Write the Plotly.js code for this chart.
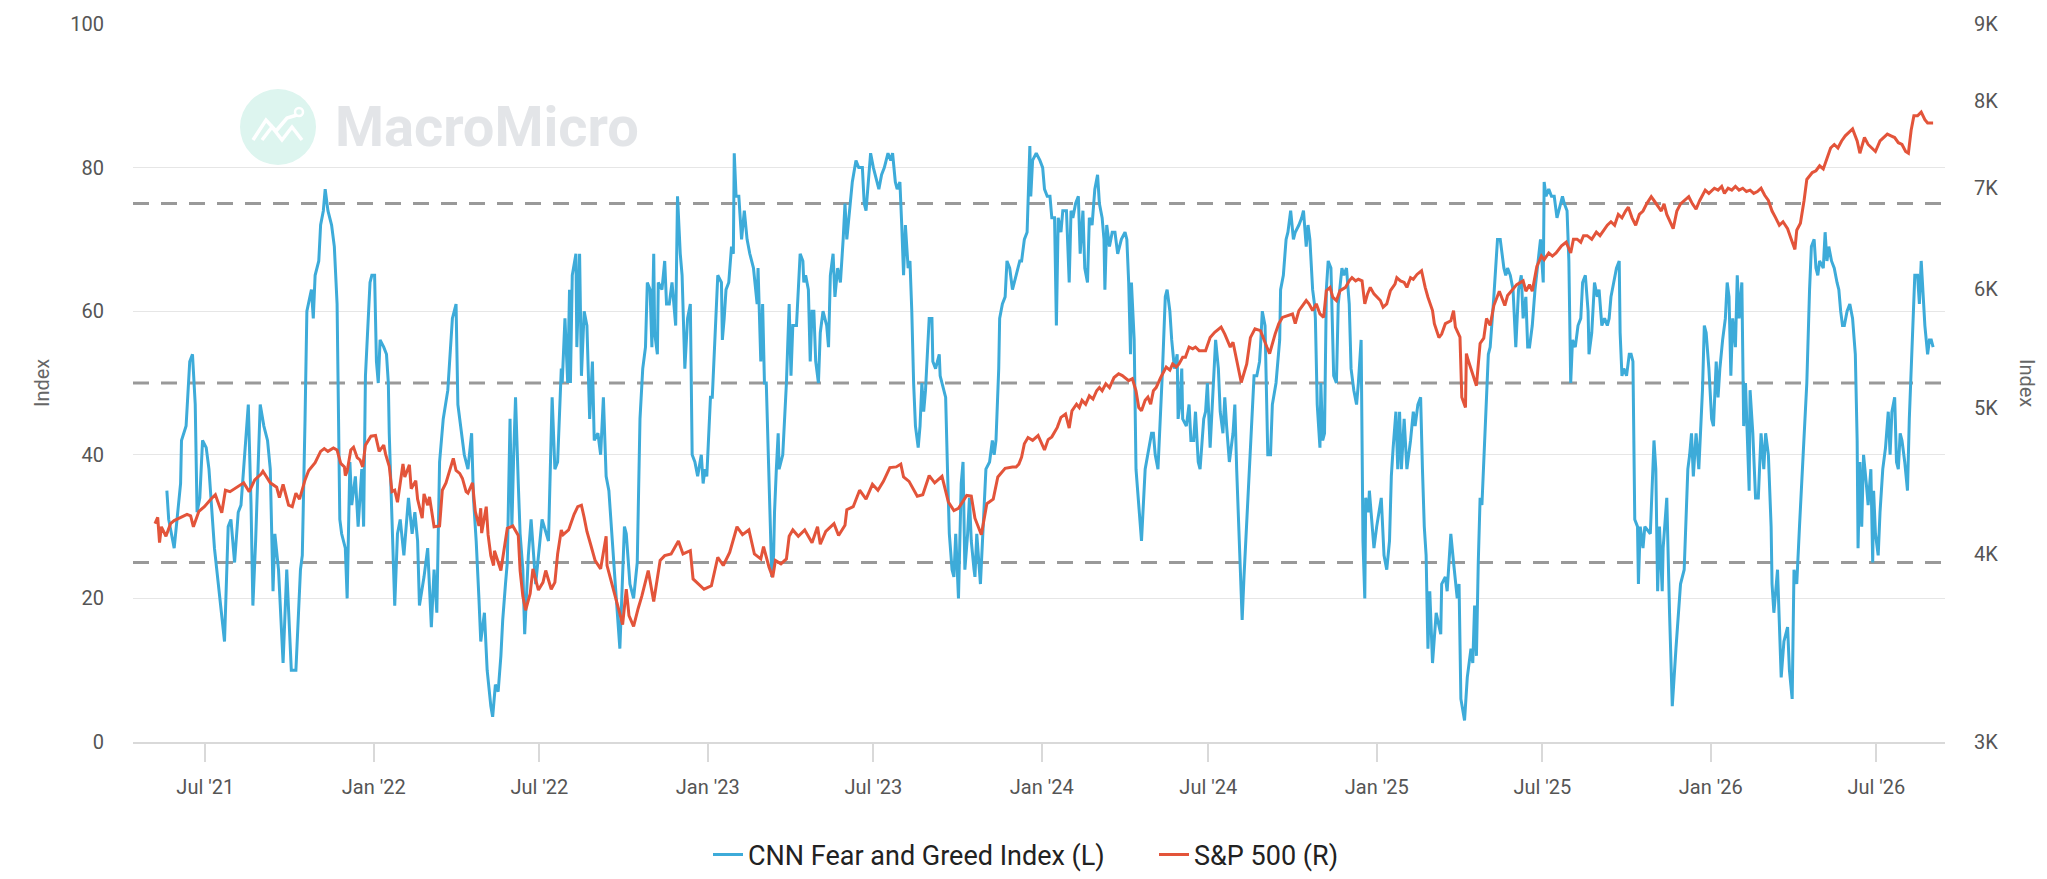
<!DOCTYPE html>
<html><head><meta charset="utf-8">
<script src="https://cdn.plot.ly/plotly-3.0.1.min.js"></script>
<style>html,body{margin:0;padding:0;background:#fff;}#chart{width:2047px;height:879px;}</style>
</head><body><div id="chart"></div>
<script>
// CNN Fear and Greed Index (left axis) - [date, value]
const fngPoints = [
['2021-05-20',35],['2021-05-22',31],['2021-05-28',27],['2021-06-04',36],['2021-06-05',42],['2021-06-10',44],['2021-06-14',53],['2021-06-17',54],['2021-06-20',47],['2021-06-22',32],['2021-06-25',34],['2021-06-28',42],
['2021-07-02',41],['2021-07-05',38],['2021-07-11',27],['2021-07-15',22],['2021-07-19',17],['2021-07-22',14],['2021-07-26',30],['2021-07-29',31],['2021-08-02',25],['2021-08-06',32],['2021-08-09',33],['2021-08-15',43],
['2021-08-17',47],['2021-08-20',33],['2021-08-22',19],['2021-08-25',28],['2021-08-30',47],['2021-09-03',44],['2021-09-07',42],['2021-09-10',38],['2021-09-13',21],['2021-09-15',29],['2021-09-19',24],['2021-09-24',11],
['2021-09-28',24],['2021-10-03',10],['2021-10-08',10],['2021-10-13',24],['2021-10-15',26],['2021-10-18',45],['2021-10-20',60],['2021-10-25',63],['2021-10-27',59],['2021-10-29',65],['2021-11-02',67],['2021-11-04',72],
['2021-11-07',74],['2021-11-09',77],['2021-11-12',74],['2021-11-16',72],['2021-11-19',69],['2021-11-22',61],['2021-11-25',31],['2021-11-27',29],['2021-12-01',27],['2021-12-03',20],['2021-12-06',39],['2021-12-08',33],
['2021-12-12',37],['2021-12-15',30],['2021-12-19',38],['2021-12-21',30],['2021-12-23',51],['2021-12-28',64],['2021-12-30',65],
['2022-01-02',65],['2022-01-04',53],['2022-01-06',50],['2022-01-08',56],['2022-01-12',55],['2022-01-15',54],['2022-01-17',50],['2022-01-18',43],['2022-01-21',31],['2022-01-24',19],['2022-01-27',29],['2022-01-30',31],
['2022-02-03',26],['2022-02-08',34],['2022-02-12',29],['2022-02-15',32],['2022-02-18',28],['2022-02-20',19],['2022-02-25',23],['2022-03-01',27],['2022-03-05',16],['2022-03-08',24],['2022-03-11',18],['2022-03-14',39],
['2022-03-18',45],['2022-03-23',49],['2022-03-28',59],['2022-04-01',61],['2022-04-03',47],['2022-04-07',43],['2022-04-10',40],['2022-04-14',38],['2022-04-18',43],['2022-04-20',34],['2022-04-23',28],['2022-04-26',20],
['2022-04-28',14],['2022-05-02',18],['2022-05-05',10],['2022-05-09',5],['2022-05-11',3.5],['2022-05-14',8],['2022-05-17',7],['2022-05-20',12],['2022-05-22',17],['2022-05-25',22],['2022-05-27',25],['2022-05-30',45],
['2022-06-01',30],['2022-06-03',40],['2022-06-05',48],['2022-06-08',36],['2022-06-10',29],['2022-06-13',24],['2022-06-15',15],['2022-06-19',26],['2022-06-22',31],['2022-06-27',22],['2022-07-01',27],['2022-07-04',31],
['2022-07-11',28],['2022-07-15',48],['2022-07-18',38],['2022-07-21',39],['2022-07-25',52],['2022-07-26',50],['2022-07-29',59],['2022-08-01',50],['2022-08-03',63],['2022-08-04',50],['2022-08-06',65],['2022-08-10',68],
['2022-08-11',55],['2022-08-14',68],['2022-08-16',51],['2022-08-19',60],['2022-08-22',58],['2022-08-25',45],['2022-08-28',53],['2022-08-30',42],['2022-09-03',43],['2022-09-06',40],['2022-09-09',48],['2022-09-12',37],
['2022-09-15',35],['2022-09-18',29],['2022-09-22',22],['2022-09-27',13],['2022-10-02',30],['2022-10-04',29],['2022-10-08',22],['2022-10-12',20],['2022-10-16',25],['2022-10-19',45],['2022-10-22',52],['2022-10-25',55],
['2022-10-27',64],['2022-10-30',63],['2022-11-01',55],['2022-11-03',68],['2022-11-04',57],['2022-11-07',54],['2022-11-08',64],['2022-11-12',63],['2022-11-15',67],['2022-11-17',61],['2022-11-20',61],['2022-11-23',64],
['2022-11-27',58],['2022-11-29',76],['2022-12-02',68],['2022-12-04',65],['2022-12-07',52],['2022-12-10',59],['2022-12-13',61],['2022-12-15',40],['2022-12-18',39],['2022-12-21',37],['2022-12-25',40],['2022-12-27',36],
['2022-12-29',38],['2022-12-31',37],
['2023-01-04',48],['2023-01-06',48],['2023-01-09',56],['2023-01-12',65],['2023-01-16',64],['2023-01-17',56],['2023-01-19',59],['2023-01-21',63],['2023-01-24',64],['2023-01-26',68],['2023-01-27',69],['2023-01-29',68],
['2023-01-30',82],['2023-02-01',76],['2023-02-04',76],['2023-02-07',70],['2023-02-10',74],['2023-02-13',70],['2023-02-16',68],['2023-02-20',66],['2023-02-24',61],['2023-02-25',66],['2023-02-28',53],['2023-03-02',61],
['2023-03-04',50],['2023-03-06',50],['2023-03-09',35],['2023-03-12',23],['2023-03-14',26],['2023-03-15',32],['2023-03-17',38],['2023-03-19',43],['2023-03-20',38],['2023-03-24',40],['2023-03-28',50],['2023-03-30',59],
['2023-03-31',61],['2023-04-02',51],['2023-04-04',58],['2023-04-08',58],['2023-04-10',64],['2023-04-12',68],['2023-04-15',67],['2023-04-16',64],['2023-04-18',65],['2023-04-21',63],['2023-04-23',53],['2023-04-25',60],
['2023-04-27',60],['2023-04-29',53],['2023-05-02',50],['2023-05-04',57],['2023-05-07',60],['2023-05-11',58],['2023-05-13',55],['2023-05-15',65],['2023-05-18',68],['2023-05-20',62],['2023-05-23',66],['2023-05-26',64],
['2023-05-29',70],['2023-05-31',75],['2023-06-02',70],['2023-06-06',76],['2023-06-08',78],['2023-06-12',81],['2023-06-15',80],['2023-06-19',80],['2023-06-21',75],['2023-06-23',74],['2023-06-26',79],['2023-06-28',82],
['2023-07-01',80],['2023-07-05',78],['2023-07-07',77],['2023-07-10',79],['2023-07-13',80],['2023-07-17',82],['2023-07-20',81],['2023-07-22',82],['2023-07-25',78],['2023-07-27',77],['2023-07-30',78],['2023-08-01',72],
['2023-08-03',65],['2023-08-05',72],['2023-08-08',66],['2023-08-10',67],['2023-08-12',60],['2023-08-14',50],['2023-08-16',44],['2023-08-19',41],['2023-08-21',44],['2023-08-23',50],['2023-08-25',46],['2023-08-27',49],
['2023-08-29',54],['2023-08-31',59],['2023-09-03',59],['2023-09-04',53],['2023-09-07',52],['2023-09-11',54],['2023-09-12',51],['2023-09-14',50],['2023-09-18',48],['2023-09-20',38],['2023-09-22',29],['2023-09-25',24],
['2023-09-27',23],['2023-09-29',29],['2023-10-02',20],['2023-10-05',36],['2023-10-07',39],['2023-10-09',24],['2023-10-12',29],['2023-10-14',34],['2023-10-16',28],['2023-10-19',24],['2023-10-20',23],['2023-10-22',29],
['2023-10-26',22],['2023-11-01',38],['2023-11-05',39],['2023-11-08',42],['2023-11-10',40],['2023-11-12',42],['2023-11-15',52],['2023-11-16',59],['2023-11-19',61],['2023-11-22',62],['2023-11-24',67],['2023-11-27',66],
['2023-11-30',63],['2023-12-04',65],['2023-12-08',67],['2023-12-10',67],['2023-12-13',70],['2023-12-16',71],['2023-12-17',76],['2023-12-19',83],['2023-12-20',76],['2023-12-22',81],['2023-12-26',82],['2023-12-30',81],
['2024-01-02',80],['2024-01-04',77],['2024-01-07',76],['2024-01-10',76],['2024-01-12',73],['2024-01-15',73],['2024-01-17',58],['2024-01-19',73],['2024-01-22',71],['2024-01-24',74],['2024-01-28',74],['2024-01-31',64],
['2024-02-02',74],['2024-02-04',73],['2024-02-07',75],['2024-02-10',76],['2024-02-12',68],['2024-02-15',74],['2024-02-17',66],['2024-02-20',64],['2024-02-22',73],['2024-02-25',72],['2024-02-28',77],['2024-03-02',79],
['2024-03-04',75],['2024-03-07',73],['2024-03-09',70],['2024-03-10',63],['2024-03-12',72],['2024-03-15',69],['2024-03-18',71],['2024-03-21',71],['2024-03-24',68],['2024-03-28',70],['2024-04-01',71],['2024-04-03',70],
['2024-04-05',64],['2024-04-07',54],['2024-04-08',64],['2024-04-11',56],['2024-04-13',38],['2024-04-17',31],['2024-04-19',28],['2024-04-23',38],['2024-04-28',42],['2024-04-30',43],['2024-05-02',43],['2024-05-04',40],
['2024-05-07',38],['2024-05-10',46],['2024-05-12',52],['2024-05-15',62],['2024-05-17',63],['2024-05-20',60],['2024-05-22',56],['2024-05-25',52],['2024-05-28',54],['2024-05-29',45],['2024-05-31',47],['2024-06-02',52],
['2024-06-03',45],['2024-06-07',44],['2024-06-10',47],['2024-06-12',42],['2024-06-15',42],['2024-06-17',46],['2024-06-20',39],['2024-06-22',38],['2024-06-26',45],['2024-06-28',46],['2024-06-30',50],['2024-07-03',41],
['2024-07-06',49],['2024-07-08',53],['2024-07-09',56],['2024-07-12',52],['2024-07-14',46],['2024-07-17',43],['2024-07-19',48],['2024-07-21',44],['2024-07-24',39],['2024-07-28',43],['2024-07-30',47],['2024-08-01',38],
['2024-08-04',28],['2024-08-07',17],['2024-08-09',23],['2024-08-13',33],['2024-08-17',45],['2024-08-20',51],['2024-08-23',51],['2024-08-26',53],['2024-08-27',55],['2024-08-29',60],['2024-09-01',58],['2024-09-04',40],
['2024-09-07',40],['2024-09-09',47],['2024-09-13',50],['2024-09-17',56],['2024-09-18',63],['2024-09-21',65],['2024-09-24',70],['2024-09-26',71],['2024-09-29',74],['2024-10-02',70],['2024-10-04',71],['2024-10-08',72],
['2024-10-11',73],['2024-10-13',74],['2024-10-16',69],['2024-10-18',72],['2024-10-20',70],['2024-10-23',63],['2024-10-25',61],['2024-10-26',59],['2024-10-28',47],['2024-10-31',41],['2024-11-01',50],['2024-11-03',42],
['2024-11-05',43],['2024-11-07',63],['2024-11-09',67],['2024-11-12',66],['2024-11-15',51],['2024-11-18',50],['2024-11-20',61],['2024-11-24',66],['2024-11-26',65],['2024-11-29',66],['2024-12-02',61],['2024-12-04',52],
['2024-12-07',49],['2024-12-10',47],['2024-12-12',50],['2024-12-15',56],['2024-12-17',28],['2024-12-19',20],['2024-12-20',34],['2024-12-23',32],['2024-12-24',35],['2024-12-27',30],['2024-12-29',27],
['2025-01-01',30],['2025-01-06',34],['2025-01-09',26],['2025-01-12',24],['2025-01-15',28],['2025-01-17',37],['2025-01-19',41],['2025-01-22',46],['2025-01-24',38],['2025-01-26',46],['2025-01-28',38],['2025-01-31',45],
['2025-02-03',38],['2025-02-05',40],['2025-02-07',42],['2025-02-10',46],['2025-02-12',44],['2025-02-15',47],['2025-02-18',48],['2025-02-20',38],['2025-02-22',30],['2025-02-24',26],['2025-02-26',13],['2025-02-28',21],
['2025-03-03',11],['2025-03-07',18],['2025-03-12',15],['2025-03-13',22],['2025-03-17',23],['2025-03-19',21],['2025-03-23',29],['2025-03-26',25],['2025-03-30',20],['2025-04-01',22],['2025-04-03',6],['2025-04-07',3],
['2025-04-10',9],['2025-04-14',13],['2025-04-16',11],['2025-04-18',19],['2025-04-20',12],['2025-04-22',25],['2025-04-24',34],['2025-04-26',33],['2025-04-29',41],['2025-05-01',48],['2025-05-03',54],['2025-05-05',55],
['2025-05-09',62],['2025-05-13',70],['2025-05-16',70],['2025-05-18',68],['2025-05-20',66],['2025-05-22',65],['2025-05-24',66],['2025-05-27',65],['2025-05-30',63],['2025-06-02',55],['2025-06-05',63],['2025-06-08',65],
['2025-06-10',59],['2025-06-13',62],['2025-06-15',55],['2025-06-17',55],['2025-06-20',58],['2025-06-23',63],['2025-06-26',67],['2025-06-29',70],['2025-07-02',64],['2025-07-03',78],['2025-07-05',76],['2025-07-08',77],
['2025-07-11',76],['2025-07-14',76],['2025-07-17',73],['2025-07-19',74],['2025-07-23',76],['2025-07-25',75],['2025-07-28',74],['2025-07-30',67],['2025-08-01',50],['2025-08-03',56],['2025-08-06',55],['2025-08-09',58],
['2025-08-12',59],['2025-08-14',64],['2025-08-17',65],['2025-08-20',60],['2025-08-21',54],['2025-08-24',57],['2025-08-27',64],['2025-08-30',62],['2025-09-01',63],['2025-09-04',58],['2025-09-07',59],['2025-09-10',58],
['2025-09-12',59],['2025-09-14',62],['2025-09-18',65],['2025-09-20',66],['2025-09-23',67],['2025-09-24',57],['2025-09-26',51],['2025-09-28',52],['2025-10-01',51],['2025-10-04',54],['2025-10-06',54],['2025-10-08',53],
['2025-10-10',31],['2025-10-13',30],['2025-10-14',22],['2025-10-16',30],['2025-10-19',27],['2025-10-21',30],['2025-10-27',29],['2025-10-31',42],['2025-11-02',38],['2025-11-04',21],['2025-11-06',30],['2025-11-09',21],
['2025-11-10',27],['2025-11-14',34],['2025-11-17',18],['2025-11-20',5],['2025-11-24',13],['2025-11-29',22],['2025-12-03',24],['2025-12-07',38],['2025-12-09',40],['2025-12-11',43],['2025-12-13',37],['2025-12-16',43],
['2025-12-19',38],['2025-12-21',44],['2025-12-23',49],['2025-12-25',58],['2025-12-27',57],['2025-12-30',52],
['2026-01-02',45],['2026-01-04',44],['2026-01-07',53],['2026-01-09',48],['2026-01-11',52],['2026-01-14',56],['2026-01-17',59],['2026-01-19',64],['2026-01-21',62],['2026-01-23',51],['2026-01-25',59],['2026-01-28',55],
['2026-01-30',65],['2026-02-01',59],['2026-02-04',64],['2026-02-06',44],['2026-02-08',50],['2026-02-12',35],['2026-02-13',49],['2026-02-16',43],['2026-02-19',34],['2026-02-22',34],['2026-02-25',43],['2026-02-28',38],
['2026-03-02',43],['2026-03-05',40],['2026-03-08',30],['2026-03-09',22],['2026-03-11',18],['2026-03-15',24],['2026-03-17',17],['2026-03-19',9],['2026-03-22',14],['2026-03-26',16],['2026-03-28',10],['2026-03-31',6],
['2026-04-02',24],['2026-04-05',22],['2026-04-08',30],['2026-04-12',41],['2026-04-16',50],['2026-04-19',63],['2026-04-21',69],['2026-04-24',70],['2026-04-26',66],['2026-04-28',65],['2026-04-30',67],['2026-05-04',66],
['2026-05-06',71],['2026-05-08',67],['2026-05-10',69],['2026-05-13',67],['2026-05-16',66],['2026-05-19',64],['2026-05-21',63],['2026-05-23',60],['2026-05-25',58],['2026-05-27',58],['2026-05-30',60],['2026-06-02',61],
['2026-06-05',59],['2026-06-08',54],['2026-06-10',42],['2026-06-11',27],['2026-06-13',39],['2026-06-15',30],['2026-06-17',40],['2026-06-20',36],['2026-06-22',33],['2026-06-25',38],['2026-06-27',25],['2026-06-28',35],
['2026-06-30',29],['2026-07-03',26],['2026-07-05',32],['2026-07-08',38],['2026-07-11',41],['2026-07-14',46],['2026-07-16',40],['2026-07-18',46],['2026-07-21',48],['2026-07-23',39],['2026-07-25',38],['2026-07-27',43],
['2026-07-29',42],['2026-08-01',39],['2026-08-04',35],['2026-08-06',45],['2026-08-10',60],['2026-08-12',65],['2026-08-15',65],['2026-08-17',61],['2026-08-19',67],['2026-08-21',63],['2026-08-23',58],['2026-08-26',54],
['2026-08-28',56],['2026-08-30',56],['2026-09-01',55]
];

// S&P 500 (right axis, log) - [date, value]
const spxPoints = [
['2021-05-07',4190],['2021-05-10',4230],['2021-05-12',4070],['2021-05-14',4170],['2021-05-19',4110],['2021-05-24',4190],['2021-05-28',4210],['2021-06-04',4230],['2021-06-11',4250],['2021-06-15',4240],['2021-06-18',4170],
['2021-06-24',4270],['2021-06-30',4300],['2021-07-07',4350],['2021-07-12',4380],['2021-07-19',4260],['2021-07-23',4410],['2021-07-28',4400],['2021-08-05',4430],['2021-08-12',4460],['2021-08-18',4400],['2021-08-24',4480],
['2021-08-31',4520],['2021-09-02',4540],['2021-09-10',4460],['2021-09-17',4430],['2021-09-20',4360],['2021-09-24',4450],['2021-09-30',4310],['2021-10-04',4300],['2021-10-08',4390],['2021-10-12',4350],['2021-10-18',4480],
['2021-10-22',4545],['2021-10-29',4600],['2021-11-04',4680],['2021-11-08',4700],['2021-11-12',4680],['2021-11-18',4705],['2021-11-22',4690],['2021-11-26',4595],['2021-11-30',4570],['2021-12-01',4510],['2021-12-03',4540],
['2021-12-07',4690],['2021-12-10',4710],['2021-12-14',4635],['2021-12-17',4620],['2021-12-20',4570],['2021-12-23',4725],['2021-12-29',4790],
['2022-01-03',4795],['2022-01-07',4680],['2022-01-12',4725],['2022-01-14',4660],['2022-01-18',4575],['2022-01-21',4400],['2022-01-24',4410],['2022-01-27',4330],['2022-01-31',4515],['2022-02-02',4590],['2022-02-04',4500],
['2022-02-09',4585],['2022-02-11',4420],['2022-02-16',4475],['2022-02-18',4350],['2022-02-23',4225],['2022-02-25',4385],['2022-03-01',4310],['2022-03-03',4365],['2022-03-08',4170],['2022-03-14',4175],['2022-03-17',4410],
['2022-03-21',4460],['2022-03-25',4545],['2022-03-29',4630],['2022-04-01',4545],['2022-04-05',4525],['2022-04-08',4490],['2022-04-12',4400],['2022-04-14',4390],['2022-04-19',4460],['2022-04-22',4270],['2022-04-26',4175],
['2022-04-28',4290],['2022-04-29',4130],['2022-05-04',4300],['2022-05-06',4120],['2022-05-09',3990],['2022-05-12',3930],['2022-05-13',4020],['2022-05-18',3925],['2022-05-20',3900],['2022-05-27',4160],['2022-06-02',4175],
['2022-06-08',4115],['2022-06-10',3900],['2022-06-13',3750],['2022-06-16',3670],['2022-06-21',3765],['2022-06-24',3910],['2022-06-30',3785],['2022-07-05',3830],['2022-07-08',3900],['2022-07-14',3790],['2022-07-18',3830],
['2022-07-21',4000],['2022-07-25',4150],['2022-07-27',4120],['2022-08-02',4150],['2022-08-08',4250],['2022-08-12',4300],['2022-08-16',4310],['2022-08-19',4230],['2022-08-22',4140],['2022-08-26',4060],['2022-08-31',3960],
['2022-09-06',3910],['2022-09-12',4110],['2022-09-13',3930],['2022-09-16',3870],['2022-09-22',3760],['2022-09-27',3650],['2022-09-30',3590],['2022-10-04',3790],['2022-10-07',3640],['2022-10-12',3580],['2022-10-17',3680],
['2022-10-21',3750],['2022-10-28',3900],['2022-11-03',3720],['2022-11-10',3960],['2022-11-15',3990],['2022-11-22',4000],['2022-11-30',4080],['2022-12-05',4000],['2022-12-13',4020],['2022-12-16',3850],['2022-12-22',3820],
['2022-12-28',3790],
['2023-01-05',3810],['2023-01-12',3980],['2023-01-18',3930],['2023-01-25',4010],['2023-02-02',4170],['2023-02-08',4120],['2023-02-15',4150],['2023-02-21',4000],['2023-02-28',3970],['2023-03-03',4045],['2023-03-09',3920],
['2023-03-13',3860],['2023-03-16',3960],['2023-03-22',3940],['2023-03-28',3970],['2023-03-31',4110],['2023-04-04',4150],['2023-04-10',4110],['2023-04-17',4150],['2023-04-25',4070],['2023-05-01',4170],['2023-05-04',4060],
['2023-05-10',4140],['2023-05-19',4190],['2023-05-24',4115],['2023-05-31',4180],['2023-06-02',4280],['2023-06-09',4300],['2023-06-16',4410],['2023-06-23',4350],['2023-06-30',4450],['2023-07-06',4410],['2023-07-12',4470],
['2023-07-19',4565],['2023-07-26',4570],['2023-07-31',4590],['2023-08-03',4500],['2023-08-09',4470],['2023-08-18',4370],['2023-08-24',4380],['2023-08-31',4510],['2023-09-06',4460],['2023-09-14',4505],['2023-09-21',4330],
['2023-09-27',4275],['2023-10-02',4290],['2023-10-11',4375],['2023-10-16',4370],['2023-10-20',4225],['2023-10-27',4120],['2023-11-02',4320],['2023-11-09',4350],['2023-11-14',4500],['2023-11-22',4560],['2023-11-30',4570],
['2023-12-04',4570],['2023-12-07',4590],['2023-12-10',4640],['2023-12-13',4735],['2023-12-17',4780],['2023-12-22',4760],['2023-12-28',4795],
['2024-01-04',4690],['2024-01-08',4765],['2024-01-12',4785],['2024-01-18',4855],['2024-01-22',4930],['2024-01-27',4955],['2024-01-31',4850],['2024-02-03',4980],['2024-02-08',5030],['2024-02-11',5005],['2024-02-14',5060],
['2024-02-18',5030],['2024-02-22',5095],['2024-02-26',5070],['2024-03-01',5135],['2024-03-04',5160],['2024-03-07',5135],['2024-03-11',5190],['2024-03-15',5160],['2024-03-20',5240],['2024-03-25',5270],['2024-03-29',5255],
['2024-04-05',5215],['2024-04-09',5230],['2024-04-13',5135],['2024-04-16',5005],['2024-04-19',4980],['2024-04-23',5060],['2024-04-26',5085],['2024-04-29',5030],['2024-05-02',5135],['2024-05-05',5160],['2024-05-10',5240],
['2024-05-16',5325],['2024-05-20',5300],['2024-05-23',5350],['2024-05-27',5325],['2024-05-30',5350],['2024-06-03',5405],['2024-06-06',5405],['2024-06-10',5490],['2024-06-14',5475],['2024-06-17',5490],['2024-06-21',5460],
['2024-06-28',5460],['2024-07-03',5570],['2024-07-08',5615],['2024-07-15',5660],['2024-07-19',5600],['2024-07-25',5490],['2024-07-28',5530],['2024-07-31',5410],['2024-08-02',5350],['2024-08-06',5200],['2024-08-12',5350],
['2024-08-16',5570],['2024-08-21',5645],['2024-08-27',5630],['2024-09-03',5490],['2024-09-06',5435],['2024-09-12',5600],['2024-09-16',5690],['2024-09-20',5745],['2024-09-26',5760],['2024-10-01',5775],['2024-10-04',5690],
['2024-10-08',5805],['2024-10-16',5895],['2024-10-19',5865],['2024-10-23',5805],['2024-10-27',5865],['2024-10-31',5775],['2024-11-04',5745],['2024-11-07',5985],['2024-11-11',6015],['2024-11-14',5925],['2024-11-18',5895],
['2024-11-22',5985],['2024-11-28',6015],['2024-12-02',6075],['2024-12-05',6105],['2024-12-09',6075],['2024-12-12',6090],['2024-12-16',6075],['2024-12-19',5865],['2024-12-22',5955],['2024-12-25',6015],['2024-12-29',5955],
['2025-01-01',5925],['2025-01-05',5895],['2025-01-08',5835],['2025-01-12',5865],['2025-01-16',5985],['2025-01-21',6045],['2025-01-23',6105],['2025-01-27',6075],['2025-01-31',6060],['2025-02-03',6015],['2025-02-07',6105],
['2025-02-10',6090],['2025-02-14',6135],['2025-02-19',6170],['2025-02-23',6015],['2025-02-26',5925],['2025-03-03',5805],['2025-03-05',5690],['2025-03-10',5570],['2025-03-13',5600],['2025-03-17',5690],['2025-03-23',5715],
['2025-03-26',5805],['2025-03-28',5660],['2025-04-02',5575],['2025-04-04',5085],['2025-04-08',5005],['2025-04-09',5435],['2025-04-11',5380],['2025-04-16',5265],['2025-04-20',5175],['2025-04-24',5520],['2025-04-28',5565],
['2025-05-01',5735],['2025-05-05',5675],['2025-05-09',5850],['2025-05-15',5980],['2025-05-21',5850],['2025-05-24',5940],['2025-05-28',5980],['2025-06-03',6040],['2025-06-10',6075],['2025-06-13',5980],['2025-06-17',6040],
['2025-06-20',5980],['2025-06-25',6210],['2025-06-30',6310],['2025-07-03',6275],['2025-07-08',6340],['2025-07-12',6310],['2025-07-16',6340],['2025-07-22',6410],['2025-07-27',6445],['2025-08-01',6340],['2025-08-04',6475],
['2025-08-08',6475],['2025-08-12',6445],['2025-08-15',6510],['2025-08-19',6510],['2025-08-24',6475],['2025-08-29',6545],['2025-09-02',6510],['2025-09-05',6545],['2025-09-10',6615],['2025-09-14',6650],['2025-09-18',6615],
['2025-09-22',6725],['2025-09-26',6690],['2025-09-30',6760],['2025-10-03',6800],['2025-10-07',6690],['2025-10-11',6615],['2025-10-15',6725],['2025-10-19',6760],['2025-10-23',6835],['2025-10-28',6910],['2025-10-31',6870],
['2025-11-04',6815],['2025-11-08',6760],['2025-11-11',6835],['2025-11-14',6725],['2025-11-21',6580],['2025-11-25',6760],['2025-11-29',6835],['2025-12-03',6870],['2025-12-08',6910],['2025-12-12',6835],['2025-12-16',6780],
['2025-12-20',6870],['2025-12-26',6980],['2025-12-30',6945],
['2026-01-05',7000],['2026-01-09',6980],['2026-01-13',7020],['2026-01-16',6945],['2026-01-20',7000],['2026-01-24',6980],['2026-01-28',7020],['2026-02-01',6980],['2026-02-05',7000],['2026-02-09',6965],['2026-02-13',6980],
['2026-02-17',6945],['2026-02-21',6965],['2026-02-25',7000],['2026-03-01',6925],['2026-03-05',6870],['2026-03-09',6760],['2026-03-13',6690],['2026-03-17',6615],['2026-03-21',6650],['2026-03-26',6580],['2026-03-30',6475],
['2026-04-03',6375],['2026-04-05',6565],['2026-04-09',6635],['2026-04-13',6870],['2026-04-16',7095],['2026-04-22',7170],['2026-04-26',7190],['2026-04-30',7245],['2026-05-04',7210],['2026-05-08',7325],['2026-05-12',7445],
['2026-05-16',7485],['2026-05-20',7445],['2026-05-24',7525],['2026-05-28',7585],['2026-06-01',7625],['2026-06-05',7665],['2026-06-10',7525],['2026-06-13',7385],['2026-06-18',7565],['2026-06-22',7485],['2026-06-26',7445],
['2026-06-30',7405],['2026-07-05',7525],['2026-07-09',7565],['2026-07-13',7605],['2026-07-17',7585],['2026-07-21',7565],['2026-07-25',7505],['2026-07-29',7485],['2026-08-02',7405],['2026-08-05',7385],['2026-08-08',7650],
['2026-08-11',7820],['2026-08-15',7820],['2026-08-19',7865],['2026-08-23',7775],['2026-08-26',7735],['2026-09-01',7735]
];

const seriesNames = ['CNN Fear and Greed Index (L)', 'S&P 500 (R)'];
const leftTickVals = [0, 20, 40, 60, 80, 100];
const rightTickVals = [3000, 4000, 5000, 6000, 7000, 8000, 9000];
const rightTickText = ['3K', '4K', '5K', '6K', '7K', '8K', '9K'];
const xTickVals = ['2021-07-01','2022-01-01','2022-07-01','2023-01-01','2023-07-01','2024-01-01','2024-07-01','2025-01-01','2025-07-01','2026-01-01','2026-07-01'];
const xTickText = ["Jul '21","Jan '22","Jul '22","Jan '23","Jul '23","Jan '24","Jul '24","Jan '25","Jul '25","Jan '26","Jul '26"];
const zoneLevels = [25, 50, 75];
const axisTitle = 'Index';
const watermarkText = 'MacroMicro';

// ---- layout helpers (pixel geometry of the page) ----
const W = 2047, H = 879;
const M = {l: 133, r: 102, t: 24, b: 137, autoexpand: false};
const PW = W - M.l - M.r, PH = H - M.t - M.b;
const px = (x) => (x - M.l) / PW;
const py = (y) => 1 - (y - M.t) / PH;

const FONT = "Roboto, 'Liberation Sans', Arial, sans-serif";

const traces = [
  {
    x: fngPoints.map(p => p[0]), y: fngPoints.map(p => p[1]),
    name: seriesNames[0], type: 'scatter', mode: 'lines',
    line: {color: '#3DABD9', width: 3}, yaxis: 'y', legend: 'legend'
  },
  {
    x: spxPoints.map(p => p[0]), y: spxPoints.map(p => p[1]),
    name: seriesNames[1], type: 'scatter', mode: 'lines',
    line: {color: '#E3543A', width: 3}, yaxis: 'y2', legend: 'legend2'
  }
];

const shapes = zoneLevels.map(v => ({
  type: 'line', xref: 'paper', x0: 0, x1: 1, yref: 'y', y0: v, y1: v,
  line: {color: '#999999', width: 3, dash: '16px,12px'}, layer: 'below'
}));

// watermark logo circle + icon
const cx = 278, cy = 127, rr = 38;
shapes.push({
  type: 'circle', xref: 'paper', yref: 'paper',
  x0: px(cx - rr), x1: px(cx + rr), y0: py(cy + rr), y1: py(cy - rr),
  fillcolor: '#DDF5EF', line: {width: 0}, layer: 'below'
});
function iconPath(pts) {
  return pts.map((p, i) => (i ? 'L' : 'M') + px(cx + p[0]).toFixed(5) + ',' + py(cy + p[1]).toFixed(5)).join(' ');
}
shapes.push({
  type: 'path', xref: 'paper', yref: 'paper',
  path: iconPath([[-25, 13], [-12, -7], [-2, 4], [9, -9], [19, -12]]),
  line: {color: '#ffffff', width: 3.5}, layer: 'below'
});
shapes.push({
  type: 'path', xref: 'paper', yref: 'paper',
  path: iconPath([[-16, 13], [-6, 0], [4, 13], [14, 0], [24, 13]]),
  line: {color: '#ffffff', width: 3.5}, layer: 'below'
});
shapes.push({
  type: 'circle', xref: 'paper', yref: 'paper',
  x0: px(cx + 17), x1: px(cx + 25), y0: py(cy - 11), y1: py(cy - 19),
  fillcolor: '#DDF5EF', line: {color: '#ffffff', width: 2.5}, layer: 'below'
});

const annotations = [
  {
    xref: 'paper', yref: 'paper', x: px(487), y: py(127), xanchor: 'center', yanchor: 'middle',
    text: '<b>' + watermarkText + '</b>', showarrow: false,
    font: {family: "Roboto, 'Open Sans', sans-serif", size: 56, color: '#E3E5E8'}
  },
  {
    xref: 'paper', yref: 'paper', x: px(42), y: 0.5, xanchor: 'center', yanchor: 'middle',
    text: axisTitle, textangle: -90, showarrow: false,
    font: {family: FONT, size: 20, color: '#666666'}
  },
  {
    xref: 'paper', yref: 'paper', x: px(2027), y: 0.5, xanchor: 'center', yanchor: 'middle',
    text: axisTitle, textangle: 90, showarrow: false,
    font: {family: FONT, size: 20, color: '#666666'}
  }
];

const legendBase = {
  orientation: 'h', xanchor: 'left', y: py(855), yanchor: 'middle',
  font: {family: FONT, size: 27, color: '#222222'}, itemwidth: 30,
  bgcolor: 'rgba(0,0,0,0)', borderwidth: 0
};

const layout = {
  width: W, height: H,
  margin: M,
  paper_bgcolor: '#ffffff', plot_bgcolor: '#ffffff',
  font: {family: FONT, color: '#666666'},
  showlegend: true,
  legend: Object.assign({}, legendBase, {x: px(708)}),
  legend2: Object.assign({}, legendBase, {x: px(1154)}),
  xaxis: {
    type: 'date', range: ['2021-04-13', '2026-09-14'],
    tickmode: 'array', tickvals: xTickVals, ticktext: xTickText,
    showgrid: false, zeroline: false,
    showline: true, linecolor: '#D9D9D9', linewidth: 2,
    ticks: 'outside', ticklen: 18, tickwidth: 2, tickcolor: '#D9D9D9',
    tickfont: {family: FONT, size: 20, color: '#555555'},
    ticklabelstandoff: 8
  },
  yaxis: {
    range: [0, 100], tickmode: 'array', tickvals: leftTickVals,
    showgrid: true, gridcolor: '#E6E6E6', gridwidth: 1.3,
    zeroline: false, showline: false, ticks: '',
    tickfont: {family: FONT, size: 20, color: '#555555'},
    ticklabelstandoff: 28
  },
  yaxis2: {
    type: 'log', overlaying: 'y', side: 'right',
    range: [Math.log10(3000), Math.log10(9000)],
    tickmode: 'array', tickvals: rightTickVals, ticktext: rightTickText,
    showgrid: false, zeroline: false, showline: false, ticks: '',
    tickfont: {family: FONT, size: 20, color: '#555555'},
    ticklabelstandoff: 28
  },
  shapes: shapes,
  annotations: annotations,
  hovermode: false
};

Plotly.newPlot('chart', traces, layout, {staticPlot: true, displayModeBar: false});
</script>
</body></html>
